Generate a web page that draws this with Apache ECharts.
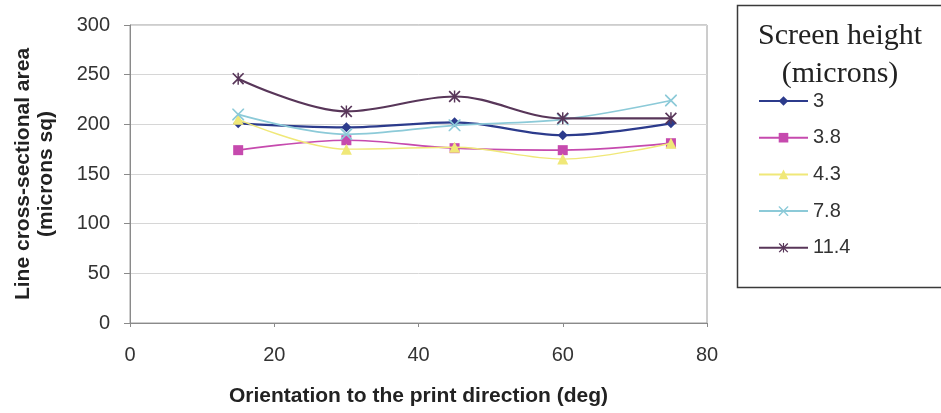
<!DOCTYPE html>
<html>
<head>
<meta charset="utf-8">
<script src="https://cdn.jsdelivr.net/npm/echarts@6/dist/echarts.min.js"></script>
<style>
  html, body { margin: 0; padding: 0; background: #ffffff; }
  #chart { width: 941px; height: 413px; }
</style>
</head>
<body>
<div id="chart"></div>
<script>
// Orientation angles (deg) at which the line area was measured
const orientations = [15, 30, 45, 60, 75];

// Screen heights (microns), one series per height
const seriesNames = ['3', '3.8', '4.3', '7.8', '11.4'];

// Line cross-sectional area (microns sq) per screen height
const area3 = [201, 197, 202, 189, 201];
const area38 = [174, 184, 176, 174, 181];
const area43 = [205, 175, 177, 165, 181];
const area78 = [210, 190, 199, 205, 224];
const area114 = [246, 213, 228, 206, 206];

const yTicks = [0, 50, 100, 150, 200, 250, 300];
const xTicks = [0, 20, 40, 60, 80];

const allValues = [area3, area38, area43, area78, area114];

const colors = ['#2c3b8c', '#c64aae', '#f0e878', '#8ccad8', '#583659'];
const symbols = [
  'diamond',
  'rect',
  'triangle',
  'path://M0,0 L10,10 M10,0 L0,10 M0,0 L1,0 L10,9 L10,10 L9,10 L0,1 Z M10,0 L10,1 L1,10 L0,10 L0,9 L9,0 Z',
  'path://M0,1 L1,0 L10,9 L9,10 Z M9,0 L10,1 L1,10 L0,9 Z M4.4,0 L5.6,0 L5.6,10 L4.4,10 Z'
];
const symbolSizes = [10, 10, 11, 12, 12];
const lineWidths = [2.2, 1.7, 1.4, 1.7, 2.2];

const series = seriesNames.map((name, i) => ({
  name: name,
  type: 'line',
  smooth: 0.35,
  data: orientations.map((x, j) => [x, allValues[i][j]]),
  symbol: symbols[i],
  symbolSize: symbolSizes[i],
  showSymbol: true,
  lineStyle: { color: colors[i], width: lineWidths[i] },
  itemStyle: { color: colors[i], borderWidth: 0 },
  emphasis: { disabled: true },
  z: 2 + i
}));

const sans = 'Liberation Sans, Arial, sans-serif';

const chart = echarts.init(document.getElementById('chart'), null, { renderer: 'canvas' });

chart.setOption({
  animation: false,
  backgroundColor: '#ffffff',
  color: colors,
  grid: {
    left: 130, right: 234, top: 25, bottom: 90,
    show: true, borderColor: '#9a9a9a', borderWidth: 1
  },
  xAxis: {
    type: 'value',
    min: xTicks[0],
    max: xTicks[xTicks.length - 1],
    interval: 20,
    name: 'Orientation to the print direction (deg)',
    nameLocation: 'middle',
    nameGap: 63,
    nameTextStyle: { fontFamily: sans, fontSize: 21, fontWeight: 'bold', color: '#222' },
    axisLine: { show: true, lineStyle: { color: '#8a8a8a', width: 1 } },
    axisTick: { show: true, inside: false, length: 4, lineStyle: { color: '#8a8a8a' } },
    axisLabel: { fontFamily: sans, fontSize: 20, color: '#333', margin: 22 },
    splitLine: { show: false }
  },
  yAxis: {
    type: 'value',
    min: yTicks[0],
    max: yTicks[yTicks.length - 1],
    interval: 50,
    name: 'Line cross-sectional area\n(microns sq)',
    nameLocation: 'middle',
    nameGap: 72,
    nameTextStyle: { fontFamily: sans, fontSize: 21, fontWeight: 'bold', color: '#222', lineHeight: 23 },
    axisLine: { show: true, lineStyle: { color: '#8a8a8a', width: 1 } },
    axisTick: { show: true, inside: false, length: 6, lineStyle: { color: '#8a8a8a' } },
    axisLabel: { fontFamily: sans, fontSize: 20, color: '#333', margin: 20 },
    splitLine: { show: true, lineStyle: { color: '#d6d6d6', width: 1 } }
  },
  legend: {
    orient: 'vertical',
    left: 753,
    top: 86,
    itemWidth: 49,
    itemHeight: 12,
    itemGap: 16.7,
    data: seriesNames,
    textStyle: { fontFamily: sans, fontSize: 20, color: '#333', lineHeight: 20 },
    selectedMode: false
  },
  graphic: [
    {
      type: 'rect',
      shape: { x: 737.5, y: 5.5, width: 215, height: 282 },
      style: { fill: 'none', stroke: '#3a3a3a', lineWidth: 1.5 },
      z: 1
    },
    {
      type: 'text',
      x: 840, y: 36,
      style: {
        text: 'Screen height',
        font: '30px "Liberation Serif", "Times New Roman", serif',
        fill: '#222', align: 'center', verticalAlign: 'middle'
      }
    },
    {
      type: 'text',
      x: 840, y: 74,
      style: {
        text: '(microns)',
        font: '30px "Liberation Serif", "Times New Roman", serif',
        fill: '#222', align: 'center', verticalAlign: 'middle'
      }
    }
  ],
  series: series
});
</script>
</body>
</html>
